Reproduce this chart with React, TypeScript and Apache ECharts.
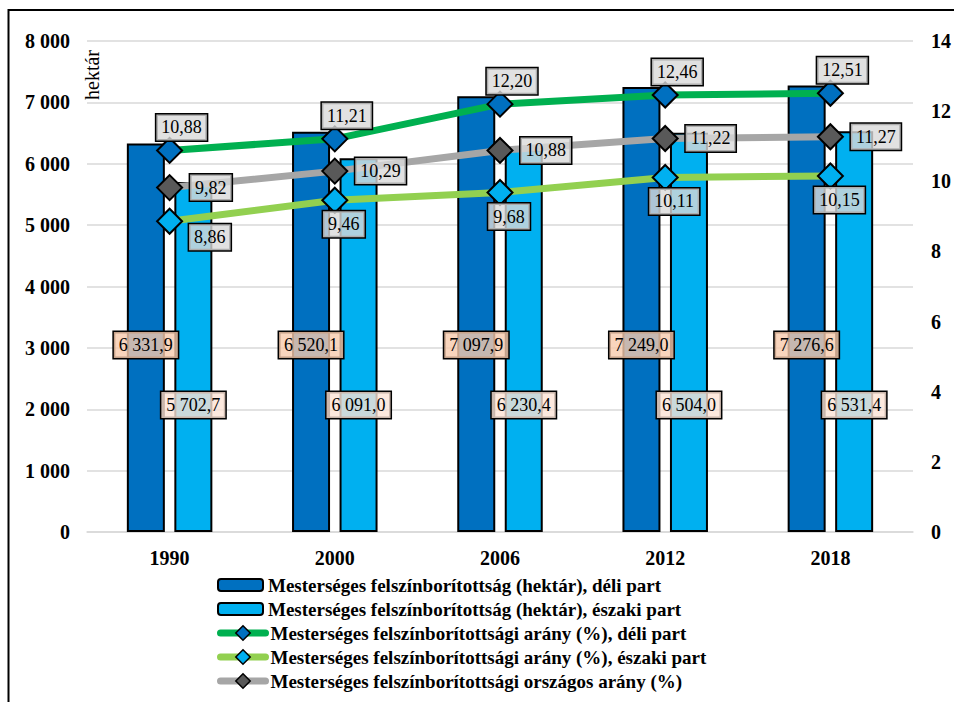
import React, { useEffect, useRef } from "react";
import * as echarts from "echarts";

const categories = ["1990", "2000", "2006", "2012", "2018"];
const southHa = [6331.9, 6520.1, 7097.9, 7249.0, 7276.6];
const northHa = [5702.7, 6091.0, 6230.4, 6504.0, 6531.4];
const southPct = [10.88, 11.21, 12.2, 12.46, 12.51];
const northPct = [8.86, 9.46, 9.68, 10.11, 10.15];
const nationalPct = [9.82, 10.29, 10.88, 11.22, 11.27];

const seriesNames = [
  "Mesterséges felszínborítottság (hektár), déli part",
  "Mesterséges felszínborítottság (hektár), északi part",
  "Mesterséges felszínborítottsági arány (%), déli part",
  "Mesterséges felszínborítottsági arány (%), északi part",
  "Mesterséges felszínborítottsági országos arány (%)",
];

const FONT = "'Liberation Serif', 'Times New Roman', serif";

function groupThousands(s: string): string {
  return s.replace(/\B(?=(\d{3})+(?!\d))/g, " ");
}
function fmtHa(v: number): string {
  const [i, d] = v.toFixed(1).split(".");
  return groupThousands(i) + "," + d;
}
function fmtPct(v: number): string {
  return v.toFixed(2).replace(".", ",");
}

const lineLabelBase = {
  show: true,
  fontFamily: FONT,
  fontSize: 18,
  lineHeight: 20,
  color: "#000",
  backgroundColor: "rgba(217,217,217,0.8)",
  borderColor: "#000",
  borderWidth: 1.5,
  padding: [3, 5, 3, 5],
  formatter: (p: any) => fmtPct(p.value),
};

const legendText = { fontFamily: FONT, fontSize: 19, fontWeight: "bold", color: "#000", lineHeight: 20 };

export default function App() {
  const ref = useRef<HTMLDivElement>(null);
  useEffect(() => {
    if (!ref.current) return;
    const chart = echarts.init(ref.current, null, { renderer: "svg" });
    const option: any = {
      animation: false,
      backgroundColor: "#fff",
      textStyle: { fontFamily: FONT },
      grid: { left: 87, right: 39, top: 41, bottom: 170, containLabel: false },
      graphic: [
        {
          type: "rect",
          shape: { x: 8.5, y: 10, width: 1000, height: 800 },
          style: { fill: "none", stroke: "#000", lineWidth: 2 },
          silent: true,
          z: 100,
        },
        {
          type: "text",
          x: 92,
          y: 75,
          rotation: Math.PI / 2,
          style: {
            text: "hektár",
            font: `20px ${FONT}`,
            fill: "#000",
            textAlign: "center",
            textVerticalAlign: "middle",
          },
          z: 100,
        },
      ],
      legend: [
        {
          orient: "vertical",
          left: 212,
          top: 570,
          itemWidth: 45,
          itemHeight: 12,
          itemGap: 4,
          data: [seriesNames[0], seriesNames[1]],
          textStyle: legendText,
          itemStyle: { borderColor: "#000", borderWidth: 2 },
        },
        {
          orient: "vertical",
          left: 212,
          top: 618,
          itemWidth: 45,
          itemHeight: 18,
          itemGap: 4,
          data: [seriesNames[2], seriesNames[3], seriesNames[4]],
          textStyle: legendText,
          itemStyle: { borderColor: "#000", borderWidth: 1.5 },
          lineStyle: { width: 7, cap: "round" },
        },
      ],
      xAxis: {
        type: "category",
        data: categories,
        boundaryGap: true,
        axisTick: { show: false },
        axisLine: { show: true, lineStyle: { color: "#D9D9D9", width: 1.5 } },
        axisLabel: { fontFamily: FONT, fontSize: 20, fontWeight: "bold", color: "#000", margin: 16 },
      },
      yAxis: [
        {
          type: "value",
          min: 0,
          max: 8000,
          interval: 1000,
          axisLine: { show: false },
          axisTick: { show: false },
          splitLine: { show: true, lineStyle: { color: "#D9D9D9", width: 1.5 } },
          axisLabel: {
            fontFamily: FONT,
            fontSize: 20,
            fontWeight: "bold",
            color: "#000",
            margin: 17,
            formatter: (v: number) => groupThousands(String(v)),
          },
        },
        {
          type: "value",
          min: 0,
          max: 14,
          interval: 2,
          axisLine: { show: false },
          axisTick: { show: false },
          splitLine: { show: false },
          axisLabel: { fontFamily: FONT, fontSize: 20, fontWeight: "bold", color: "#000", margin: 18 },
        },
      ],
      series: [
        {
          name: seriesNames[0],
          type: "bar",
          data: southHa,
          barWidth: 38,
          barGap: "25%",
          itemStyle: { color: "#0070C0", borderColor: "#000", borderWidth: 2 },
          label: {
            show: true,
            position: "insideBottom",
            distance: 174,
            fontFamily: FONT,
            fontSize: 18,
            lineHeight: 20,
            color: "#000",
            backgroundColor: "rgba(248,203,173,0.8)",
            borderColor: "#000",
            borderWidth: 1.5,
            padding: [3, 5, 3, 5],
            formatter: (p: any) => fmtHa(p.value),
          },
        },
        {
          name: seriesNames[1],
          type: "bar",
          data: northHa,
          barWidth: 38,
          barGap: "25%",
          itemStyle: { color: "#00B0F0", borderColor: "#000", borderWidth: 2 },
          label: {
            show: true,
            position: "insideBottom",
            distance: 114,
            fontFamily: FONT,
            fontSize: 18,
            lineHeight: 20,
            color: "#000",
            backgroundColor: "rgba(252,228,214,0.8)",
            borderColor: "#000",
            borderWidth: 1.5,
            padding: [3, 5, 3, 5],
            formatter: (p: any) => fmtHa(p.value),
          },
        },
        {
          name: seriesNames[2],
          type: "line",
          yAxisIndex: 1,
          data: southPct,
          symbol: "diamond",
          symbolSize: 25,
          lineStyle: { color: "#00B050", width: 7 },
          itemStyle: { color: "#0070C0", borderColor: "#000", borderWidth: 2 },
          label: { ...lineLabelBase, position: "inside", offset: [12, -23] },
          z: 5,
        },
        {
          name: seriesNames[3],
          type: "line",
          yAxisIndex: 1,
          data: northPct.map((v, i) =>
            i === 0
              ? { value: v, label: { position: "right", distance: 6, offset: [0, 16] } }
              : v
          ),
          symbol: "diamond",
          symbolSize: 25,
          lineStyle: { color: "#92D050", width: 7 },
          itemStyle: { color: "#00B0F0", borderColor: "#000", borderWidth: 2 },
          label: { ...lineLabelBase, position: "inside", offset: [9, 24] },
          z: 5,
        },
        {
          name: seriesNames[4],
          type: "line",
          yAxisIndex: 1,
          data: nationalPct,
          symbol: "diamond",
          symbolSize: 25,
          lineStyle: { color: "#A6A6A6", width: 7 },
          itemStyle: { color: "#595959", borderColor: "#000", borderWidth: 2 },
          label: { ...lineLabelBase, position: "right", distance: 7 },
          z: 5,
        },
      ],
    };
    chart.setOption(option);
    return () => chart.dispose();
  }, []);
  return (
    <div
      ref={ref}
      style={{ position: "fixed", left: 0, top: 0, width: 954, height: 702, background: "#fff" }}
    />
  );
}
